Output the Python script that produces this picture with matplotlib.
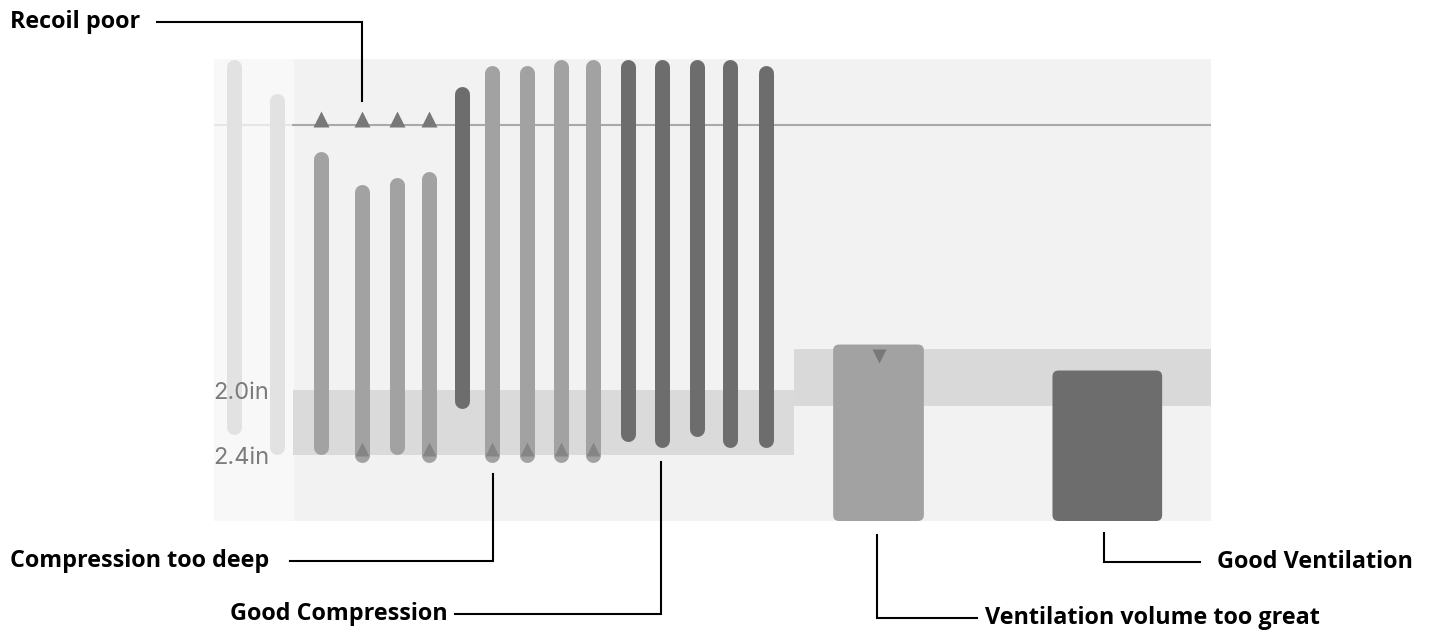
import matplotlib
matplotlib.use("Agg")
import matplotlib.pyplot as plt
from matplotlib.patches import FancyBboxPatch, Rectangle
from matplotlib.lines import Line2D

# ---------------- data ----------------
# compressions: time position, release depth (top) and compression depth (bottom), in inches
comp_x = [2.0, 6.3, 10.7, 14.8, 18.4, 21.6, 24.9, 27.9, 31.4, 34.8, 38.0, 41.5, 44.9, 48.4, 51.8, 55.4]
comp_release = [0.01, 0.22, 0.58, 0.78, 0.74, 0.70, 0.18, 0.05, 0.05, 0.015, 0.015, 0.01, 0.01, 0.01, 0.01, 0.05]
comp_depth = [2.23, 2.35, 2.35, 2.40, 2.35, 2.40, 2.07, 2.40, 2.40, 2.40, 2.40, 2.27, 2.31, 2.24, 2.31, 2.31]
comp_kind = ["pre", "pre", "fault", "fault", "fault", "fault", "good", "fault", "fault",
             "fault", "fault", "good", "good", "good", "good", "good"]
recoil_poor_idx = [2, 3, 4, 5]
too_deep_idx = [3, 5, 7, 8, 9, 10]

recoil_limit = 0.37
depth_target = [2.0, 2.4]
ytick_vals = [2.0, 2.4]
ytick_labels = ["2.0in", "2.4in"]

# ventilations
vent_left = [62.1, 84.1]
vent_width = [9.1, 11.0]
vent_top = [1.72, 1.88]
vent_kind = ["fault", "good"]
vent_target = [1.75, 2.10]
vent_too_great_idx = [0]

comp_span = [7.9, 58.2]
vent_span = [58.2, 100.0]

# ---------------- style ----------------
colors = {"pre": "#e2e2e2", "fault": "#a2a2a2", "good": "#6d6d6d"}
tri_color = "#787878"

W, H = 1432, 634
fig = plt.figure(figsize=(W / 100, H / 100), dpi=100)
fig.patch.set_facecolor("white")
ax = fig.add_axes([214 / W, 1 - 521 / H, 997 / W, 462 / H])
ax.set_xlim(0, 100)
ax.set_ylim(2.806, -0.037)
ax.set_facecolor("#f2f2f2")
for s in ax.spines.values():
    s.set_visible(False)
ax.set_xticks([])
ax.set_yticks(ytick_vals)
ax.set_yticklabels(ytick_labels, fontsize=17, color="#7c7c7c", family="Inter")
ax.tick_params(axis="y", length=0, pad=0.5)
for lbl in ax.get_yticklabels():
    lbl.set_horizontalalignment("left")
ax.yaxis.set_zorder(10)

# background regions
ax.axvspan(0, comp_span[0], color="#f8f8f8", zorder=0)
ax.add_patch(Rectangle((comp_span[0], depth_target[0]), comp_span[1] - comp_span[0],
                       depth_target[1] - depth_target[0], color="#dadada", lw=0, zorder=1))
ax.add_patch(Rectangle((vent_span[0], vent_target[0]), vent_span[1] - vent_span[0],
                       vent_target[1] - vent_target[0], color="#d9d9d9", lw=0, zorder=1))
ax.plot([0, comp_span[0]], [recoil_limit] * 2, color="#e6e6e6", lw=1.5, zorder=2)
ax.plot([comp_span[0], 100], [recoil_limit] * 2, color="#a9a9a9", lw=1.5, zorder=2)

# compression bars
for x, t, b, k in zip(comp_x, comp_release, comp_depth, comp_kind):
    ax.plot([x, x], [t, b], color=colors[k], lw=10.8, solid_capstyle="round", zorder=3)

ax.plot([comp_x[i] for i in recoil_poor_idx], [recoil_limit - 0.038] * len(recoil_poor_idx),
        ls="none", marker="^", ms=11, color=tri_color, mec="none", zorder=4)
ax.plot([comp_x[i] for i in too_deep_idx], [depth_target[1] - 0.04] * len(too_deep_idx),
        ls="none", marker="^", ms=9.5, color="#858585", mec="none", zorder=4)

# ventilation boxes
ybottom = 2.806
for l, w, t, k in zip(vent_left, vent_width, vent_top, vent_kind):
    ax.add_patch(FancyBboxPatch((l, t), w, ybottom - t,
                                boxstyle="round,pad=0,rounding_size=0.6",
                                mutation_aspect=9.97 / 162.5,
                                color=colors[k], lw=0, zorder=3))
for i in vent_too_great_idx:
    ax.plot([vent_left[i] + vent_width[i] / 2], [vent_top[i] + 0.068], ls="none", marker="v",
            ms=9.5, color=tri_color, mec="none", zorder=4)

# ---------------- callouts (figure pixels, origin top-left) ----------------
def fp(x, y):
    return x / W, 1 - y / H

callouts = [
    ("Recoil poor", (10, 22), [(157, 22), (362, 22), (362, 101)]),
    ("Compression too deep", (10, 561), [(290, 561), (493, 561), (493, 474)]),
    ("Good Compression", (230, 614), [(455, 614), (661, 614), (661, 462)]),
    ("Ventilation volume too great", (985, 618), [(877, 535), (877, 618), (977, 618)]),
    ("Good Ventilation", (1217, 562), [(1104, 533), (1104, 562), (1200, 562)]),
]
for txt, (tx, ty), pts in callouts:
    fx, fy = fp(tx, ty)
    fig.text(fx, fy, txt, ha="left", va="center", fontsize=16.8, fontweight="bold",
             family="Open Sans", color="black")
    xs = [fp(*p)[0] for p in pts]
    ys = [fp(*p)[1] for p in pts]
    fig.add_artist(Line2D(xs, ys, transform=fig.transFigure, color="black", lw=1.5,
                          solid_joinstyle="miter"))

fig.savefig("out.png", dpi=100)
